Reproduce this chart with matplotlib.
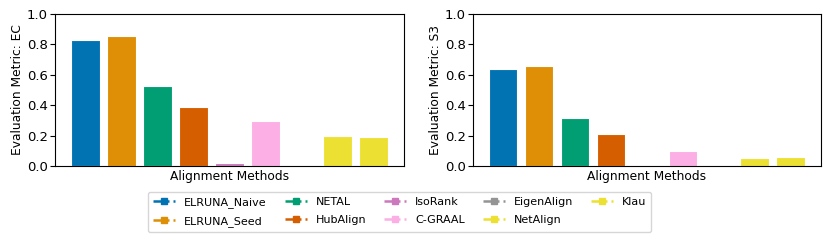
import matplotlib.pyplot as plt
from matplotlib.lines import Line2D

# methods and colors (seaborn colorblind palette)
methods = ['ELRUNA_Naive', 'ELRUNA_Seed', 'NETAL', 'HubAlign', 'IsoRank',
           'C-GRAAL', 'EigenAlign', 'NetAlign', 'Klau']
colors = ['#0173b2', '#de8f05', '#029e73', '#d55e00', '#cc78bc',
          '#fbafe4', '#949494', '#ece133', '#ece133']

ec_values = [0.827, 0.857, 0.524, 0.386, 0.018, 0.298, 0.0, 0.197, 0.193]
s3_values = [0.637, 0.657, 0.314, 0.214, 0.0, 0.099, 0.0, 0.050, 0.057]

panels = [('Evaluation Metric: EC', ec_values), ('Evaluation Metric: S3', s3_values)]

fig = plt.figure(figsize=(8.31, 2.46), dpi=100)
ax1 = fig.add_axes([0.066, 0.325, 0.420, 0.618])
ax2 = fig.add_axes([0.569, 0.325, 0.419, 0.618])

for ax, (ylabel, vals) in zip([ax1, ax2], panels):
    ax.bar(range(len(methods)), vals, width=0.8, color=colors,
           edgecolor='white', linewidth=0.8)
    ax.set_ylim(0, 1.0)
    ax.set_xticks([])
    ax.tick_params(axis='y', labelsize=9.5, pad=1.5)
    ax.set_xlabel('Alignment Methods', fontsize=8.8, labelpad=3)
    ax.set_ylabel(ylabel, fontsize=8.8, labelpad=2)

# legend with line+marker handles
handles = [Line2D([0], [0], color=c, linestyle='-.', marker='s', markersize=5,
                  linewidth=1.8) for c in colors]
fig.legend(handles, methods, loc='lower center', ncol=5,
           bbox_to_anchor=(0.481, 0.035), fontsize=8, columnspacing=1.6,
           handlelength=2.0, handletextpad=0.8, labelspacing=0.75,
           borderpad=0.45)

fig.savefig('out.png', dpi=100)
